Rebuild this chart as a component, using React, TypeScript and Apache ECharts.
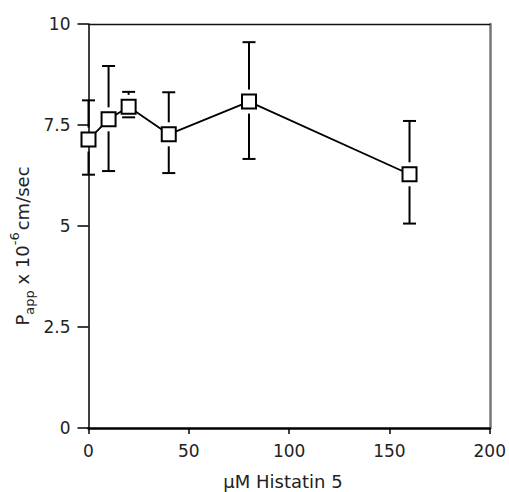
import React, { useEffect, useRef } from 'react';
import * as echarts from 'echarts';

const concentrations = [0, 10, 20, 40, 80, 160];
const pappMean = [7.14, 7.64, 7.95, 7.27, 8.08, 6.28];
const errUpper = [8.11, 8.96, 8.32, 8.31, 9.55, 7.6];
const errLower = [6.27, 6.36, 7.69, 6.31, 6.66, 5.06];
const xTickValues = [0, 50, 100, 150, 200];
const yTickValues = [0, 2.5, 5, 7.5, 10];
const xTitle = 'μM Histatin 5';

const FONT = '"DejaVu Sans", "Liberation Sans", Arial, sans-serif';

export default function App() {
  const ref = useRef<HTMLDivElement>(null);
  useEffect(() => {
    if (!ref.current) return;
    const chart = echarts.init(ref.current, null, { renderer: 'svg' });
    const gap = 12;
    const cap = 6.5;
    const option: any = {
      animation: false,
      backgroundColor: '#fff',
      textStyle: { fontFamily: FONT },
      grid: { left: 88.5, right: 16, top: 24, bottom: 64, containLabel: false },
      xAxis: [
        {
          type: 'value',
          min: xTickValues[0],
          max: xTickValues[xTickValues.length - 1],
          interval: xTickValues[1] - xTickValues[0],
          axisLine: { show: true, onZero: false, lineStyle: { color: '#000', width: 2.5 } },
          axisTick: { show: true, inside: false, length: 6, lineStyle: { color: '#000', width: 1.5 } },
          axisLabel: { color: '#222', fontSize: 17, fontFamily: FONT, margin: 14 },
          splitLine: { show: false },
        },
        {
          type: 'value',
          position: 'top',
          min: 0,
          max: 200,
          axisLine: { show: true, onZero: false, lineStyle: { color: '#111', width: 1.3 } },
          axisTick: { show: false },
          axisLabel: { show: false },
          splitLine: { show: false },
        },
      ],
      yAxis: [
        {
          type: 'value',
          min: yTickValues[0],
          max: yTickValues[yTickValues.length - 1],
          interval: yTickValues[1] - yTickValues[0],
          axisLine: { show: true, onZero: false, lineStyle: { color: '#000', width: 1.5 } },
          axisTick: { show: true, inside: false, length: 11, lineStyle: { color: '#000', width: 1.5 } },
          axisLabel: { color: '#222', fontSize: 17, fontFamily: FONT, margin: 18, formatter: (v: number) => String(v) },
          splitLine: { show: false },
        },
        {
          type: 'value',
          position: 'right',
          min: 0,
          max: 10,
          axisLine: { show: true, onZero: false, lineStyle: { color: '#777', width: 2.5 } },
          axisTick: { show: false },
          axisLabel: { show: false },
          splitLine: { show: false },
        },
      ],
      series: [
        {
          type: 'custom',
          xAxisIndex: 0,
          yAxisIndex: 0,
          z: 2,
          data: concentrations.map((x, i) => [x, errLower[i], errUpper[i], pappMean[i]]),
          renderItem: (params: any, api: any) => {
            const x = api.value(0);
            const lo = api.coord([x, api.value(1)]);
            const hi = api.coord([x, api.value(2)]);
            const mid = api.coord([x, api.value(3)]);
            const px = mid[0];
            const style = { stroke: '#000', lineWidth: 2 };
            const children: any[] = [
              { type: 'line', shape: { x1: px - cap, y1: hi[1], x2: px + cap, y2: hi[1] }, style },
              { type: 'line', shape: { x1: px - cap, y1: lo[1], x2: px + cap, y2: lo[1] }, style },
            ];
            if (hi[1] < mid[1] - gap) {
              children.push({ type: 'line', shape: { x1: px, y1: hi[1], x2: px, y2: mid[1] - gap }, style });
            }
            if (lo[1] > mid[1] + gap) {
              children.push({ type: 'line', shape: { x1: px, y1: mid[1] + gap, x2: px, y2: lo[1] }, style });
            }
            return { type: 'group', children };
          },
        },
        {
          type: 'line',
          xAxisIndex: 0,
          yAxisIndex: 0,
          z: 5,
          data: concentrations.map((x, i) => [x, pappMean[i]]),
          symbol: 'rect',
          symbolSize: 14,
          showAllSymbol: true,
          lineStyle: { color: '#000', width: 1.8 },
          itemStyle: { color: '#fff', borderColor: '#000', borderWidth: 2 },
        },
      ],
      graphic: [
        {
          type: 'text',
          x: 22,
          y: 246,
          rotation: Math.PI / 2,
          style: {
            text: '{n|P}{sub|app}{n| x 10}{sup|-6}{n|cm/sec}',
            align: 'center',
            verticalAlign: 'middle',
            fill: '#222',
            rich: {
              n: { fontSize: 18, fontFamily: FONT, fill: '#222', lineHeight: 28, verticalAlign: 'middle' },
              sub: { fontSize: 13, fontFamily: FONT, fill: '#222', lineHeight: 28, verticalAlign: 'bottom' },
              sup: { fontSize: 13, fontFamily: FONT, fill: '#222', lineHeight: 28, verticalAlign: 'top', padding: [0, 2, 0, 0] },
            },
          },
        },
        {
          type: 'text',
          x: 283,
          y: 481,
          style: {
            text: xTitle,
            align: 'center',
            verticalAlign: 'middle',
            fill: '#222',
            fontSize: 18,
            fontFamily: FONT,
          },
        },
      ],
    };
    chart.setOption(option);
    return () => chart.dispose();
  }, []);
  return (
    <div
      ref={ref}
      style={{ position: 'fixed', left: 0, top: 0, width: 509, height: 492, background: '#fff' }}
    />
  );
}
